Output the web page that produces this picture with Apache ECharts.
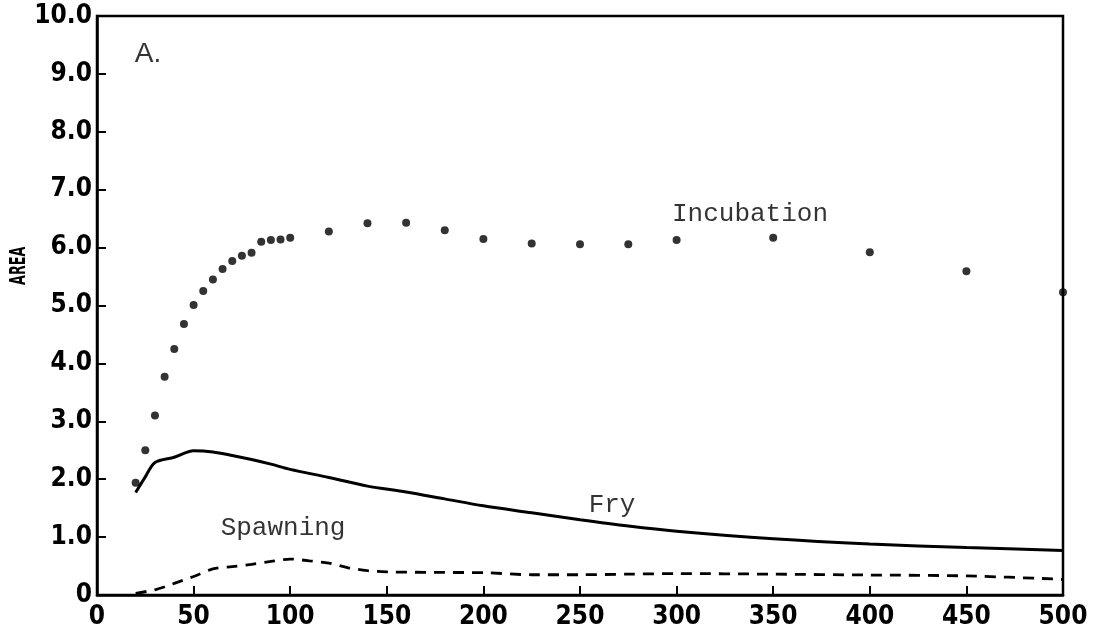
<!DOCTYPE html>
<html>
<head>
<meta charset="utf-8">
<script src="https://cdn.jsdelivr.net/npm/echarts@6/dist/echarts.min.js"></script>
<style>
html,body{margin:0;padding:0;background:#fff;}
#chart{width:1096px;height:633px;}
</style>
</head>
<body>
<div id="chart"></div>
<script>
// Incubation (dots)
const incubX = [20,25,30,35,40,45,50,55,60,65,70,75,80,85,90,95,100,120,140,160,180,200,225,250,275,300,350,400,450,500];
const incubY = [1.94,2.50,3.10,3.77,4.25,4.68,5.01,5.25,5.45,5.63,5.77,5.86,5.91,6.10,6.13,6.14,6.17,6.28,6.42,6.43,6.30,6.15,6.07,6.06,6.06,6.13,6.17,5.92,5.59,5.23];
// Fry (solid line)
const fryX = [20,25,30,40,50,60,70,80,90,100,120,140,160,180,200,225,250,275,300,350,400,450,500];
const fryY = [1.77,2.04,2.29,2.38,2.49,2.47,2.41,2.34,2.26,2.17,2.03,1.88,1.78,1.66,1.54,1.42,1.30,1.19,1.10,0.97,0.88,0.82,0.77];
// Spawning (dashed line)
const spawnX = [20,30,40,50,60,70,80,90,100,110,120,130,140,150,175,200,225,250,275,300,350,400,450,500];
const spawnY = [0.03,0.09,0.20,0.32,0.45,0.49,0.53,0.58,0.62,0.59,0.55,0.47,0.42,0.40,0.39,0.385,0.35,0.35,0.36,0.37,0.36,0.345,0.33,0.27];
// Text annotations (data coordinates)
const annoX = [338, 266.6, 96.3];
const annoY = [6.58, 1.55, 1.16];
const annoText = ['Incubation', 'Fry', 'Spawning'];
const panelLabel = 'A.';
const panelPos = [26.4, 9.34];
const yAxisName = 'AREA';

const zip = (xs, ys) => xs.map((x, i) => [x, ys[i]]);

const chart = echarts.init(document.getElementById('chart'), null, {renderer: 'canvas'});
const axisFont = {fontFamily: '"Liberation Sans Narrow", "DejaVu Sans Condensed", "DejaVu Sans"', fontWeight: 'bold', fontSize: 26, color: '#000'};

chart.setOption({
  animation: false,
  backgroundColor: '#fff',
  grid: {left: 97, right: 33, top: 16, bottom: 38, show: true, borderColor: '#000', borderWidth: 2.5, backgroundColor: 'transparent'},
  xAxis: {
    type: 'value', min: 0, max: 500, interval: 50,
    axisLine: {show: true, onZero: false, lineStyle: {color: '#000', width: 2.5}},
    axisTick: {show: true, inside: true, length: 9, lineStyle: {color: '#000', width: 2}},
    axisLabel: Object.assign({margin: 9}, axisFont),
    splitLine: {show: false}
  },
  yAxis: {
    type: 'value', min: 0, max: 10, interval: 1,
    axisLine: {show: true, onZero: false, lineStyle: {color: '#000', width: 2.5}},
    axisTick: {show: true, inside: true, length: 9, lineStyle: {color: '#000', width: 2}},
    axisLabel: Object.assign({margin: 5, formatter: v => v === 0 ? '0' : v.toFixed(1)}, axisFont),
    splitLine: {show: false}
  },
  graphic: [{
    type: 'text', x: 8, y: 285, rotation: Math.PI / 2, scaleX: 0.58, scaleY: 1,
    style: {text: yAxisName, font: 'bold 22px "DejaVu Sans"', fill: '#000'}
  }],
  series: [
    {
      name: 'Incubation', type: 'scatter', data: zip(incubX, incubY),
      symbol: 'circle', symbolSize: 8, itemStyle: {color: '#000'}, z: 5
    },
    {
      name: 'Fry', type: 'line', data: zip(fryX, fryY), smooth: 0.3,
      showSymbol: false, lineStyle: {color: '#000', width: 3}
    },
    {
      name: 'Spawning', type: 'line', data: zip(spawnX, spawnY), smooth: 0.3,
      showSymbol: false, lineStyle: {color: '#000', width: 2.8, type: [11, 8]}
    },
    {
      name: 'labels', type: 'scatter', symbolSize: 0, silent: true,
      data: annoX.map((x, i) => ({value: [x, annoY[i]], name: annoText[i]})),
      label: {show: true, position: 'inside', formatter: p => p.name,
        fontFamily: 'Liberation Mono', fontSize: 26, color: '#000'}
    },
    {
      name: 'panel', type: 'scatter', symbolSize: 0, silent: true,
      data: [{value: panelPos, name: panelLabel}],
      label: {show: true, position: 'inside', formatter: p => p.name,
        fontFamily: 'Liberation Sans', fontSize: 28, color: '#000'}
    }
  ]
});
</script>
</body>
</html>
